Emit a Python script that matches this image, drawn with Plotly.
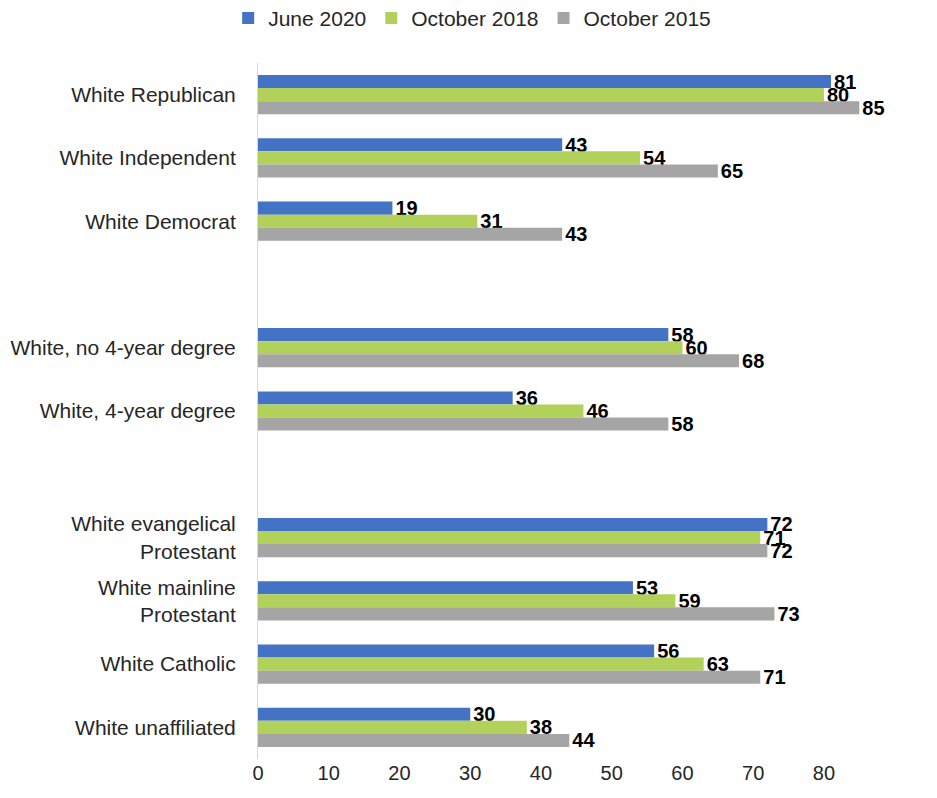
import plotly.graph_objects as go

categories = ["White Republican", "White Independent", "White Democrat", " ",
              "White, no 4-year degree", "White, 4-year degree", "  ",
              "White evangelical<br>Protestant", "White mainline<br>Protestant",
              "White Catholic", "White unaffiliated"]
june_2020 = [81, 43, 19, None, 58, 36, None, 72, 53, 56, 30]
october_2018 = [80, 54, 31, None, 60, 46, None, 71, 59, 63, 38]
october_2015 = [85, 65, 43, None, 68, 58, None, 72, 73, 71, 44]
series_names = ["June 2020", "October 2018", "October 2015"]
colors = ["#4472C4", "#B2D15A", "#A5A5A5"]
x_ticks = [0, 10, 20, 30, 40, 50, 60, 70, 80]

FONT = "Liberation Sans, Arial, sans-serif"

fig = go.Figure()
for name, vals, col in zip(series_names, [june_2020, october_2018, october_2015], colors):
    fig.add_trace(go.Bar(
        y=categories, x=vals, name=name, orientation="h",
        marker=dict(color=col, line=dict(width=0)),
        text=[("" if v is None else str(v)) for v in vals],
        textposition="outside", constraintext="none", cliponaxis=False,
        textfont=dict(family=FONT, size=20, color="#000000", weight="bold"),
    ))

fig.update_layout(
    width=929, height=790,
    barmode="group", bargap=0.38, bargroupgap=0,
    plot_bgcolor="white", paper_bgcolor="white",
    margin=dict(l=250, r=60, t=55, b=39, autoexpand=False),
    font=dict(family=FONT, size=20, color="#262626"),
    legend=dict(orientation="h", xref="container", yref="container", x=0.237, y=0.987,
                xanchor="left", yanchor="middle", font=dict(size=21, color="#262626"),
                itemwidth=30, traceorder="normal"),
    showlegend=True,
)
fig.update_xaxes(range=[0, 87.5], tickvals=x_ticks, showgrid=False, zeroline=False,
                 showline=False, ticks="", automargin=False,
                 tickfont=dict(size=20, color="#262626"))
fig.update_yaxes(categoryorder="array", categoryarray=categories, autorange="reversed",
                 showgrid=False, zeroline=False, showline=True, linecolor="#D9D9D9",
                 linewidth=1, ticks="", ticklabelstandoff=17, automargin=False,
                 tickfont=dict(size=21, color="#262626"))

fig.write_html("out.html")
